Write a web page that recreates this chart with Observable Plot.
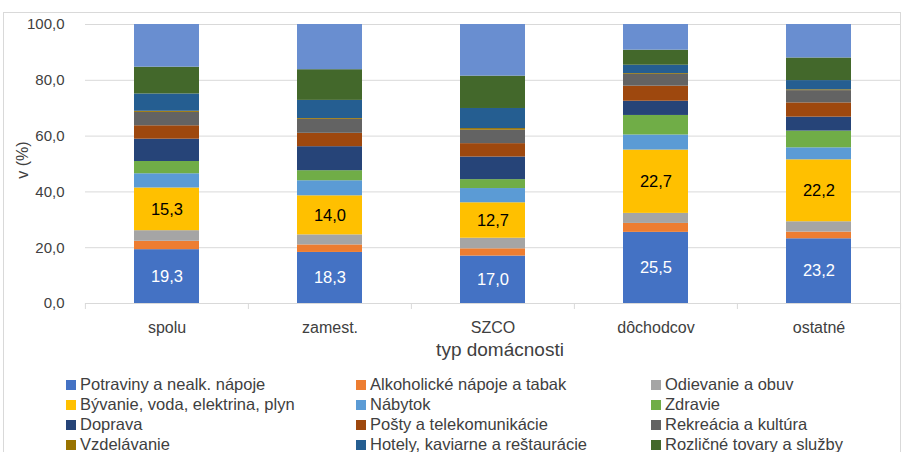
<!DOCTYPE html>
<html>
<head>
<meta charset="utf-8">
<script src="https://cdn.jsdelivr.net/npm/d3@7"></script>
<script src="https://cdn.jsdelivr.net/npm/@observablehq/plot@0.6"></script>
<style>
  html, body { margin: 0; padding: 0; background: #fff; overflow: hidden; }
  #wrap { position: relative; width: 903px; height: 452px; overflow: hidden; font-family: "Liberation Sans", Arial, sans-serif; color: #404040; }
  #frame { position: absolute; left: 3px; top: 12px; width: 898px; height: 500px; border: 1px solid #d9d9d9; box-sizing: border-box; pointer-events: none; }
  #chart { position: absolute; left: 0; top: 0; }
  .ylab { position: absolute; left: 23px; top: 160px; transform: translate(-50%, -50%) rotate(-90deg); font-size: 16px; white-space: nowrap; }
  .xtitle { position: absolute; left: 500px; top: 357px; transform: translate(-50%, -80%); font-size: 19px; white-space: nowrap; }
  .leg { position: absolute; font-size: 16.5px; line-height: 20px; white-space: nowrap; }
  .leg span.sw { display: inline-block; width: 10px; height: 10px; margin-right: 4px; }
</style>
</head>
<body>
<div id="wrap">
  <div id="frame"></div>
  <div id="chart"></div>
  <div class="ylab">v (%)</div>
  <div class="xtitle">typ domácnosti</div>
  <div id="legend"></div>
</div>
<script>
const categories = ["spolu", "zamest.", "SZCO", "dôchodcov", "ostatné"];
const seriesNames = [
  "Potraviny a nealk. nápoje", "Alkoholické nápoje a tabak", "Odievanie a obuv",
  "Bývanie, voda, elektrina, plyn", "Nábytok", "Zdravie",
  "Doprava", "Pošty a telekomunikácie", "Rekreácia a kultúra",
  "Vzdelávanie", "Hotely, kaviarne a reštaurácie", "Rozličné tovary a služby",
  "Ostatné výdavky"
];
const colors = ["#4472C4", "#ED7D31", "#A5A5A5", "#FFC000", "#5B9BD5", "#70AD47",
  "#264478", "#9E480E", "#636363", "#997300", "#255E91", "#43682B", "#698ED0"];

const potraviny   = [19.3, 18.3, 17.0, 25.5, 23.2];
const alkohol     = [3.0, 2.7, 2.6, 3.2, 2.4];
const odievanie   = [3.8, 3.6, 3.8, 3.6, 3.7];
const byvanie     = [15.3, 14.0, 12.7, 22.7, 22.2];
const nabytok     = [5.1, 5.4, 5.1, 5.4, 4.3];
const zdravie     = [4.4, 3.6, 3.2, 7.0, 6.0];
const doprava     = [8.0, 8.6, 8.1, 5.1, 5.0];
const posty       = [4.8, 4.8, 4.8, 5.4, 5.1];
const rekreacia   = [4.8, 5.0, 4.8, 4.2, 4.4];
const vzdelavanie = [0.4, 0.3, 0.6, 0.3, 0.3];
const hotely      = [6.2, 6.5, 7.2, 3.0, 3.3];
const rozlicne    = [9.6, 11.0, 11.6, 5.4, 8.1];
const ostatne     = [15.3, 16.2, 18.5, 9.2, 12.0];
const seriesValues = [potraviny, alkohol, odievanie, byvanie, nabytok, zdravie,
  doprava, posty, rekreacia, vzdelavanie, hotely, rozlicne, ostatne];
const yTicks = [0, 20, 40, 60, 80, 100];
const labeledSeries = [seriesNames[0], seriesNames[3]];

const data = [];
seriesNames.forEach((s, i) => categories.forEach((c, j) => data.push({cat: c, series: s, value: seriesValues[i][j]})));

const fmt = d => d.toFixed(1).replace(".", ",");

const W = 903, H = 370, mL = 85, mR = 2, mT = 24, mB = 67;
const step = (W - mL - mR) / categories.length;
const tickStroke = "#d9d9d9";

const chart = Plot.plot({
  width: W, height: H,
  marginLeft: mL, marginRight: mR, marginTop: mT, marginBottom: mB,
  style: {fontFamily: "'Liberation Sans', Arial, sans-serif", fontSize: "15px", color: "#404040", background: "transparent"},
  x: {domain: categories, paddingInner: 0.6, paddingOuter: 0.3, label: null},
  y: {domain: [0, 100], label: null},
  color: {domain: seriesNames, range: colors},
  marks: [
    Plot.gridY(yTicks, {stroke: tickStroke, strokeOpacity: 1, strokeWidth: 1}),
    Plot.ruleY([0], {stroke: tickStroke, strokeWidth: 1}),
    Plot.ruleX(categories, {x: d => d, dx: -step / 2, insetTop: H - mT - mB, insetBottom: -6, stroke: tickStroke}),
    Plot.ruleX([categories[categories.length - 1]], {x: d => d, dx: step / 2, insetTop: H - mT - mB, insetBottom: -6, stroke: tickStroke}),
    Plot.barY(data, {x: "cat", y: "value", fill: "series"}),
    Plot.text(data, Plot.stackY({x: "cat", y: "value", text: d => d.series === labeledSeries[0] ? fmt(d.value) : null, fill: "white", fontSize: 16.5})),
    Plot.text(data, Plot.stackY({x: "cat", y: "value", text: d => d.series === labeledSeries[1] ? fmt(d.value) : null, fill: "#000", fontSize: 16.5})),
    Plot.axisY({ticks: yTicks, tickSize: 0, tickPadding: 21, tickFormat: fmt, fontSize: 15, label: null}),
    Plot.axisX({tickSize: 0, tickPadding: 18, fontSize: 16, label: null})
  ]
});
document.getElementById("chart").appendChild(chart);

const legendCols = [66, 356, 651];
const legend = document.getElementById("legend");
seriesNames.forEach((s, i) => {
  const row = Math.floor(i / 3), col = i % 3;
  const el = document.createElement("div");
  el.className = "leg";
  el.style.left = legendCols[col] + "px";
  el.style.top = (374 + row * 20) + "px";
  const sw = document.createElement("span");
  sw.className = "sw";
  sw.style.background = colors[i];
  el.appendChild(sw);
  el.appendChild(document.createTextNode(s));
  legend.appendChild(el);
});
</script>
</body>
</html>
